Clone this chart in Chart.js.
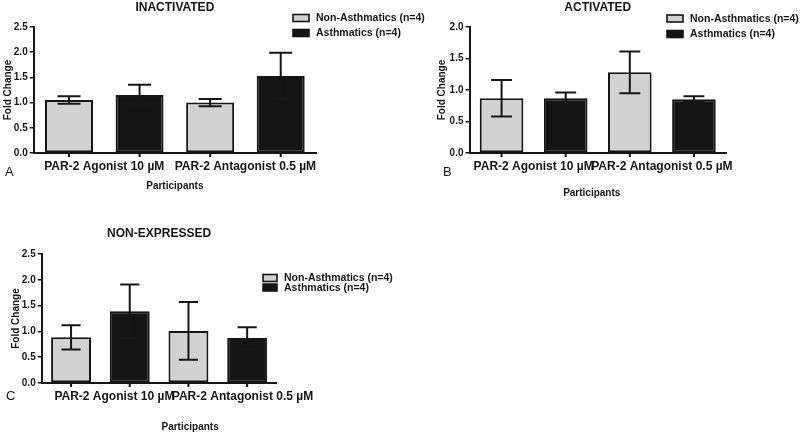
<!DOCTYPE html>
<html>
<head>
<meta charset="utf-8">
<script src="https://cdn.jsdelivr.net/npm/chart.js@4.4.1/dist/chart.umd.min.js"></script>
<style>
  body { margin: 0; background: #fff; }
  #wrap { position: relative; width: 800px; height: 433px; overflow: hidden; background: #fff; }
  canvas { position: absolute; }
</style>
</head>
<body>
<div id="wrap">
  <canvas id="chartA" width="460" height="200" style="left:0;top:0"></canvas>
  <canvas id="chartB" width="400" height="200" style="left:400px;top:0"></canvas>
  <canvas id="chartC" width="400" height="213" style="left:0;top:220px"></canvas>
</div>
<script>
let groups = ['PAR-2 Agonist 10 \u00b5M', 'PAR-2 Antagonist 0.5 \u00b5M'];
let seriesNames = ['Non-Asthmatics (n=4)', 'Asthmatics (n=4)'];
let xCaption = 'Participants';
let yCaption = 'Fold Change';

// fold change means and error bars
let inactNon = [1.05, 1.0];
let inactNonErr = [0.075, 0.07];
let inactAst = [1.15, 1.53];
let inactAstErr = [0.205, 0.46];

let actNon = [0.87, 1.28];
let actNonErr = [0.29, 0.33];
let actAst = [0.87, 0.855];
let actAstErr = [0.09, 0.045];

let nonexNon = [0.885, 1.01];
let nonexNonErr = [0.235, 0.56];
let nonexAst = [1.39, 0.87];
let nonexAstErr = [0.52, 0.21];

// y axis range / step per panel
let yMaxA = 2.5;
let yMaxB = 2.0;
let yMaxC = 2.5;
let yStep = 0.5;

const FONT = '"Liberation Sans", Arial, sans-serif';
const INK = '#161616';
const LIGHT = '#d2d2d2';
const DARK = '#141414';

// error bars + x tick marks at every bar
const errorBars = {
  id: 'errorBars',
  afterDatasetsDraw(chart) {
    const ctx = chart.ctx;
    const y = chart.scales.y;
    const bottom = chart.chartArea.bottom;
    ctx.save();
    ctx.strokeStyle = INK;
    ctx.lineWidth = 2;
    chart.data.datasets.forEach((ds, i) => {
      const meta = chart.getDatasetMeta(i);
      meta.data.forEach((el, j) => {
        const v = ds.data[j];
        const e = ds.errors[j];
        const top = y.getPixelForValue(v + e);
        const bot = y.getPixelForValue(v - e);
        const half = el.width * 0.24;
        ctx.beginPath();
        ctx.moveTo(el.x, top);
        ctx.lineTo(el.x, bot);
        ctx.moveTo(el.x - half, top);
        ctx.lineTo(el.x + half, top);
        ctx.moveTo(el.x - half, bot);
        ctx.lineTo(el.x + half, bot);
        ctx.moveTo(el.x, bottom);
        ctx.lineTo(el.x, bottom + 4);
        ctx.stroke();
      });
    });
    ctx.restore();
  }
};

// panel title, panel letter, x caption and legend
const panelText = {
  id: 'panelText',
  afterDraw(chart, args, opts) {
    const ctx = chart.ctx;
    const area = chart.chartArea;
    const mid = (area.left + area.right) / 2;
    ctx.save();
    ctx.fillStyle = INK;
    ctx.textBaseline = 'middle';

    ctx.textAlign = 'center';
    ctx.font = 'bold 12px ' + FONT;
    ctx.fillText(opts.title, mid, opts.titleY);

    ctx.font = 'bold 10px ' + FONT;
    ctx.fillText(xCaption, mid + opts.captionShift, opts.captionY);

    ctx.textAlign = 'left';
    ctx.font = '13px ' + FONT;
    ctx.fillText(opts.letter, opts.letterX, opts.letterY);

    ctx.font = 'bold 10.5px ' + FONT;
    chart.data.datasets.forEach((ds, i) => {
      const ly = opts.legendY + i * opts.legendGap;
      ctx.fillStyle = ds.backgroundColor;
      ctx.fillRect(opts.legendX, ly - 3.5, opts.boxW, 7);
      ctx.strokeStyle = INK;
      ctx.lineWidth = 1.6;
      ctx.strokeRect(opts.legendX, ly - 3.5, opts.boxW, 7);
      ctx.fillStyle = INK;
      ctx.fillText(ds.label, opts.legendX + opts.boxW + 7, ly + 0.5);
    });
    ctx.restore();
  }
};

function makeChart(id, non, nonErr, ast, astErr, yMax, cfg) {
  const ctx = document.getElementById(id).getContext('2d');
  return new Chart(ctx, {
    type: 'bar',
    data: {
      labels: groups,
      datasets: [
        {
          label: seriesNames[0],
          data: non,
          errors: nonErr,
          backgroundColor: LIGHT,
          borderColor: INK,
          borderWidth: 2,
          borderSkipped: false,
        },
        {
          label: seriesNames[1],
          data: ast,
          errors: astErr,
          backgroundColor: DARK,
          borderColor: INK,
          borderWidth: 2,
          borderSkipped: false,
        },
      ],
    },
    options: {
      responsive: false,
      animation: false,
      layout: { padding: cfg.padding },
      datasets: { bar: { categoryPercentage: 1.0, barPercentage: 0.68 } },
      plugins: {
        legend: { display: false },
        tooltip: { enabled: false },
        panelText: cfg.text,
      },
      scales: {
        x: {
          grid: { display: false, drawTicks: false },
          border: { display: true, color: INK, width: 2 },
          ticks: {
            color: INK,
            font: { family: FONT, size: 12, weight: 'bold' },
            padding: 6,
            autoSkip: false,
            maxRotation: 0,
            minRotation: 0,
            align: cfg.tickAlign,
            labelOffset: cfg.labelOffset,
          },
          afterFit: (s) => { s.height = cfg.xHeight; },
        },
        y: {
          min: 0,
          max: yMax,
          grid: { display: true, drawOnChartArea: false, drawTicks: true, tickLength: 4, color: INK, lineWidth: 1.5 },
          border: { display: true, color: INK, width: 2 },
          ticks: {
            stepSize: yStep,
            color: INK,
            padding: 2,
            font: { family: FONT, size: 10, weight: 'bold' },
            callback: (v) => v.toFixed(1),
          },
          title: {
            display: true,
            text: yCaption,
            color: INK,
            font: { family: FONT, size: 10, weight: 'bold' },
            padding: { top: 2, bottom: 0 },
          },
          afterFit: (s) => { s.width = cfg.yWidth; },
        },
      },
    },
    plugins: [errorBars, panelText],
  });
}

makeChart('chartA', inactNon, inactNonErr, inactAst, inactAstErr, yMaxA, {
  padding: { left: 0, right: 144, top: 27, bottom: 0 },
  yWidth: 33.7,
  xHeight: 47,
  tickAlign: 'center',
  labelOffset: 0,
  text: {
    title: 'INACTIVATED', titleY: 8,
    letter: 'A', letterX: 5, letterY: 172,
    captionY: 186, captionShift: 0,
    legendX: 293, legendY: 18, legendGap: 15, boxW: 16,
  },
});

makeChart('chartB', actNon, actNonErr, actAst, actAstErr, yMaxB, {
  padding: { left: 34, right: 74, top: 27, bottom: 0 },
  yWidth: 35.5,
  xHeight: 47,
  tickAlign: 'center',
  labelOffset: 0,
  text: {
    title: 'ACTIVATED', titleY: 8,
    letter: 'B', letterX: 43, letterY: 172,
    captionY: 193, captionShift: -6,
    legendX: 267, legendY: 18.5, legendGap: 15.5, boxW: 16,
  },
});

makeChart('chartC', nonexNon, nonexNonErr, nonexAst, nonexAstErr, yMaxC, {
  padding: { left: 8, right: 123.5, top: 34, bottom: 0 },
  yWidth: 33.7,
  xHeight: 50,
  tickAlign: 'start',
  labelOffset: -46,
  text: {
    title: 'NON-EXPRESSED', titleY: 14,
    letter: 'C', letterX: 6, letterY: 176,
    captionY: 207, captionShift: 31,
    legendX: 263, legendY: 58, legendGap: 9.5, boxW: 14,
  },
});
</script>
</body>
</html>
